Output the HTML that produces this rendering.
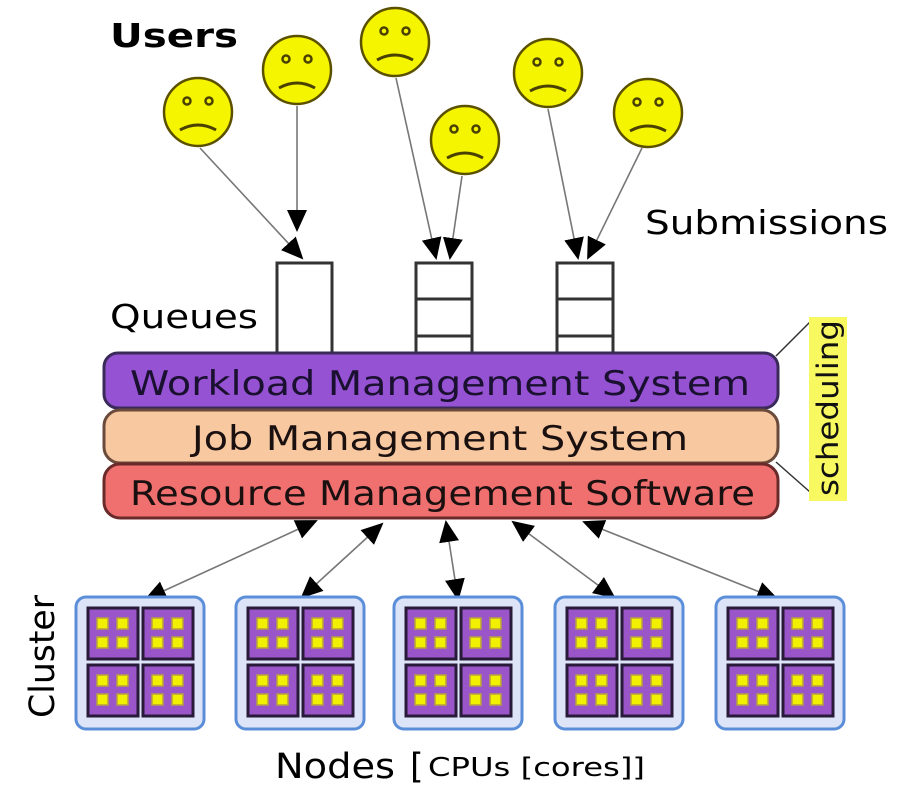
<!DOCTYPE html>
<html><head><meta charset="utf-8"><style>
html,body{margin:0;padding:0;background:#fff;}
svg{display:block;}
text{font-family:"DejaVu Sans","Liberation Sans",sans-serif;}
</style></head><body>
<svg width="903" height="799" viewBox="0 0 903 799" xmlns="http://www.w3.org/2000/svg">
<defs>
<marker id="ahs" markerWidth="22" markerHeight="20" refX="20" refY="10" orient="auto-start-reverse" markerUnits="userSpaceOnUse" viewBox="0 0 22 20">
<path d="M0,0 L22,10 L0,20 z" fill="#000"/>
</marker>
<g id="face">
<circle cx="0" cy="0" r="34" fill="#f5f500" stroke="#5a5000" stroke-width="2.5"/>
<circle cx="-11" cy="-11" r="3.5" fill="none" stroke="#4a4000" stroke-width="2.5"/>
<circle cx="11" cy="-11" r="3.5" fill="none" stroke="#4a4000" stroke-width="2.5"/>
<path d="M-18,18 Q0,8 18,18" fill="none" stroke="#4a4000" stroke-width="3"/>
</g>
<g id="core">
<rect x="0" y="0" width="50" height="51" fill="#9a55c8" stroke="#2a1a3a" stroke-width="3"/>
<rect x="9" y="10" width="11" height="11" fill="#f0f000" stroke="#b8a040" stroke-width="1.5"/>
<rect x="29" y="10" width="11" height="11" fill="#f0f000" stroke="#b8a040" stroke-width="1.5"/>
<rect x="9" y="29" width="11" height="11" fill="#f0f000" stroke="#b8a040" stroke-width="1.5"/>
<rect x="29" y="29" width="11" height="11" fill="#f0f000" stroke="#b8a040" stroke-width="1.5"/>
</g>
<g id="node">
<rect x="0" y="0" width="128" height="132" rx="10" fill="#dde4f8" stroke="#5a8ed8" stroke-width="3"/>
<use href="#core" x="12" y="11"/>
<use href="#core" x="67" y="11"/>
<use href="#core" x="12" y="68"/>
<use href="#core" x="67" y="68"/>
</g>
</defs>

<text x="110" y="47" font-size="33" font-weight="bold" textLength="128" lengthAdjust="spacingAndGlyphs">Users</text>
<text x="645" y="234" font-size="33" textLength="243" lengthAdjust="spacingAndGlyphs">Submissions</text>
<text x="110" y="328" font-size="33" textLength="148" lengthAdjust="spacingAndGlyphs">Queues</text>
<text x="275" y="778" font-size="35" textLength="120" lengthAdjust="spacingAndGlyphs">Nodes</text>
<text x="410" y="778" font-size="35">[</text>
<text x="428" y="776" font-size="26" textLength="217" lengthAdjust="spacingAndGlyphs">CPUs [cores]]</text>
<text transform="translate(54,718) rotate(-90)" font-size="35" textLength="123" lengthAdjust="spacingAndGlyphs">Cluster</text>

<g stroke="#777" stroke-width="1.6" fill="none">
<line x1="200" y1="148" x2="302" y2="258" marker-end="url(#ahs)"/>
<line x1="297" y1="106" x2="297" y2="230" marker-end="url(#ahs)"/>
<line x1="396" y1="78" x2="436" y2="258" marker-end="url(#ahs)"/>
<line x1="462" y1="176" x2="450" y2="258" marker-end="url(#ahs)"/>
<line x1="548" y1="109" x2="578" y2="258" marker-end="url(#ahs)"/>
<line x1="642" y1="148" x2="588" y2="258" marker-end="url(#ahs)"/>
</g>

<use href="#face" x="198" y="112"/>
<use href="#face" x="297" y="70"/>
<use href="#face" x="395" y="42"/>
<use href="#face" x="465" y="140"/>
<use href="#face" x="548" y="73"/>
<use href="#face" x="648" y="113"/>

<g fill="#fff" stroke="#333" stroke-width="3">
<rect x="277" y="263" width="55" height="92"/>
<rect x="416" y="263" width="56" height="92"/>
<line x1="416" y1="299" x2="472" y2="299"/>
<line x1="416" y1="336" x2="472" y2="336"/>
<rect x="557" y="263" width="56" height="92"/>
<line x1="557" y1="299" x2="613" y2="299"/>
<line x1="557" y1="336" x2="613" y2="336"/>
</g>

<rect x="104" y="353" width="674" height="55" rx="14" fill="#9552d2" stroke="#3a2a5a" stroke-width="3"/>
<text x="130" y="395" font-size="34" fill="#1a1030" textLength="620" lengthAdjust="spacingAndGlyphs">Workload Management System</text>
<rect x="104" y="410" width="674" height="53" rx="16" fill="#f8c8a0" stroke="#6a4a3a" stroke-width="3"/>
<text x="192" y="450" font-size="34" fill="#1a1010" textLength="496" lengthAdjust="spacingAndGlyphs">Job Management System</text>
<rect x="104" y="464" width="674" height="54" rx="16" fill="#f07070" stroke="#6a2a2a" stroke-width="3"/>
<text x="130" y="505" font-size="34" fill="#1a1010" textLength="625" lengthAdjust="spacingAndGlyphs">Resource Management Software</text>

<line x1="776" y1="356" x2="810" y2="322" stroke="#333" stroke-width="1.5"/>
<line x1="776" y1="462" x2="810" y2="492" stroke="#333" stroke-width="1.5"/>
<rect x="809" y="317" width="38" height="184" fill="#f8f860"/>
<text transform="translate(838,496) rotate(-90)" font-size="29" fill="#111" textLength="176" lengthAdjust="spacingAndGlyphs">scheduling</text>

<g stroke="#777" stroke-width="1.6">
<line x1="316" y1="521" x2="146" y2="599" marker-start="url(#ahs)" marker-end="url(#ahs)"/>
<line x1="382" y1="524" x2="302" y2="597" marker-start="url(#ahs)" marker-end="url(#ahs)"/>
<line x1="446" y1="522" x2="458" y2="599" marker-start="url(#ahs)" marker-end="url(#ahs)"/>
<line x1="513" y1="522" x2="614" y2="597" marker-start="url(#ahs)" marker-end="url(#ahs)"/>
<line x1="584" y1="522" x2="777" y2="599" marker-start="url(#ahs)" marker-end="url(#ahs)"/>
</g>

<use href="#node" x="76" y="597"/>
<use href="#node" x="236" y="597"/>
<use href="#node" x="394" y="597"/>
<use href="#node" x="555" y="597"/>
<use href="#node" x="716" y="597"/>
</svg>
</body></html>
